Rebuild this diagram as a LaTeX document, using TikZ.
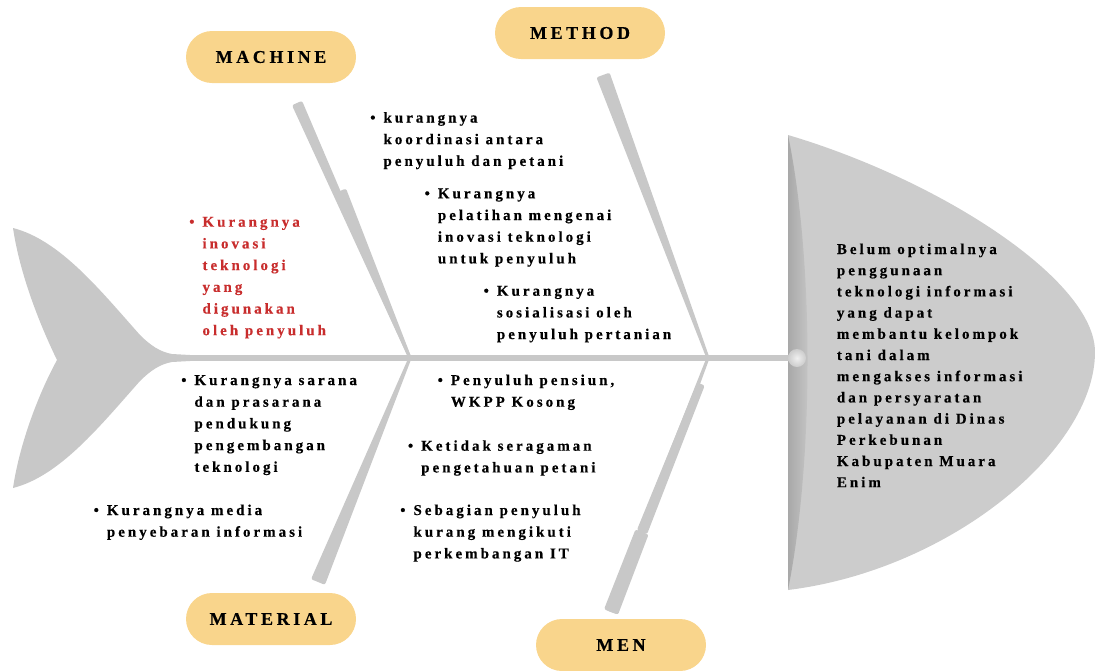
\documentclass[tikz,border=0pt]{standalone}
\usepackage{fontspec}
\setmainfont{Liberation Serif}[LetterSpace=20, BoldFeatures={FakeBold=0.3}]
\usetikzlibrary{positioning, calc}

\definecolor{pillfill}{RGB}{249,213,140}
\definecolor{bonegray}{RGB}{200,200,200}
\definecolor{headgray}{RGB}{204,204,204}
\definecolor{causered}{RGB}{200,45,45}

\newcommand{\causeitem}[1]{\begin{tabular}[t]{@{}l@{}}\llap{\textbullet\hspace{8pt}}#1\end{tabular}}
\newcommand{\effectlines}[1]{\begin{tabular}[t]{@{}l@{}}#1\end{tabular}}
% tapered bone: outer end, spine end, half widths
\newcommand{\taperbone}[4]{\fill[bone] ($(#1)!#3!90:(#2)$) -- ($(#2)!#4!-90:(#1)$) -- ($(#2)!#4!90:(#1)$) -- ($(#1)!#3!-90:(#2)$) -- cycle;}

\begin{document}
\begin{tikzpicture}[
        x=1pt, y=-1pt,
        pill/.style={rectangle, rounded corners=26pt, fill=pillfill, minimum width=170pt, minimum height=52pt, font=\fontsize{18}{20}\selectfont\bfseries, text=black},
        cause/.style={anchor=base west, inner sep=0pt, font=\fontsize{15}{21.7}\selectfont\bfseries, text=black},
        effect/.style={anchor=base west, inner sep=0pt, font=\fontsize{15}{21.2}\selectfont\bfseries, text=black},
        bone/.style={fill=bonegray, rounded corners=2pt},
        spine/.style={bonegray, line width=6pt},
    ]
        \useasboundingbox (0,0) rectangle (1095,670);

        % Joints on the spine
        \coordinate (tail) at (180,358);
        \coordinate (head) at (790,358);
        \coordinate (jleft) at (410,358);
        \coordinate (jright) at (708,358);

        % Bone ends
        \coordinate (machtop) at (297,103);
        \coordinate (machstep) at (340,191);
        \coordinate (methtop) at (603,75);
        \coordinate (matbot) at (318,582);
        \coordinate (menbot) at (611,612);
        \coordinate (menstep) at (642,532);
        \coordinate (menupper) at (701,384);

        % Tail
        \fill[bonegray] (190,355) -- (172,354) .. controls (160,352) and (150,345) .. (140,335)
            .. controls (100,290) and (60,240) .. (13,228)
            .. controls (20,275) and (40,325) .. (57,360)
            .. controls (40,391) and (20,441) .. (13,488)
            .. controls (60,476) and (100,426) .. (140,381)
            .. controls (150,371) and (160,364) .. (172,362) -- (190,361) -- cycle;

        % Head
        \fill[headgray] (788,135) .. controls (940,180) and (1095,280) .. (1095,352)
            .. controls (1095,450) and (950,570) .. (788,590) -- cycle;
        \shade[left color=black!34, right color=headgray] (788,135) .. controls (814,260) and (814,460) .. (788,590) -- cycle;

        % Spine and bones
        \draw[spine] (tail) -- (head);
        \shade[inner color=black!6, outer color=headgray] (797,358) circle (9);
        \taperbone{machtop}{jleft}{5.5pt}{1.5pt}
        \taperbone{machstep}{jleft}{6.5pt}{1.5pt}
        \taperbone{methtop}{jright}{7pt}{1.5pt}
        \taperbone{matbot}{jleft}{7.5pt}{1.5pt}
        \taperbone{menbot}{jright}{5pt}{1.5pt}
        \taperbone{menstep}{menupper}{5.5pt}{4pt}
        \taperbone{menbot}{menstep}{7.5pt}{7pt}

        % Categories
        \node[pill] (machine) at (271,57) {MACHINE};
        \node[pill] (method) at (580,33) {METHOD};
        \node[pill] (material) at (271,619) {MATERIAL};
        \node[pill] (men) at (621,645) {MEN};

        % Machine
        \node[cause, text=causered] (mc1) at (202.3,226.7) {\causeitem{Kurangnya\\inovasi\\teknologi\\yang\\digunakan\\oleh penyuluh}};

        % Method
        \node[cause] (me1) at (383.3,122.5) {\causeitem{kurangnya\\koordinasi antara\\penyuluh dan petani}};
        \node[cause] (me2) at (437.7,198.3) {\causeitem{Kurangnya\\pelatihan mengenai\\inovasi teknologi\\untuk penyuluh}};
        \node[cause] (me3) at (496.7,295.7) {\causeitem{Kurangnya\\sosialisasi oleh\\penyuluh pertanian}};

        % Material
        \node[cause] (ma1) at (194.3,385) {\causeitem{Kurangnya sarana\\dan prasarana\\pendukung\\pengembangan\\teknologi}};
        \node[cause] (ma2) at (106.7,515) {\causeitem{Kurangnya media\\penyebaran informasi}};

        % Men
        \node[cause] (mn1) at (450.7,385) {\causeitem{Penyuluh pensiun,\\WKPP Kosong}};
        \node[cause] (mn2) at (421,450.7) {\causeitem{Ketidak seragaman\\pengetahuan petani}};
        \node[cause] (mn3) at (413.3,515) {\causeitem{Sebagian penyuluh\\kurang mengikuti\\perkembangan IT}};

        % Effect
        \node[effect] (problem) at (836.7,254) {\effectlines{Belum optimalnya\\penggunaan\\teknologi informasi\\yang dapat\\membantu kelompok\\tani dalam\\mengakses informasi\\dan persyaratan\\pelayanan di Dinas\\Perkebunan\\Kabupaten Muara\\Enim}};
    \end{tikzpicture}
\end{document}
